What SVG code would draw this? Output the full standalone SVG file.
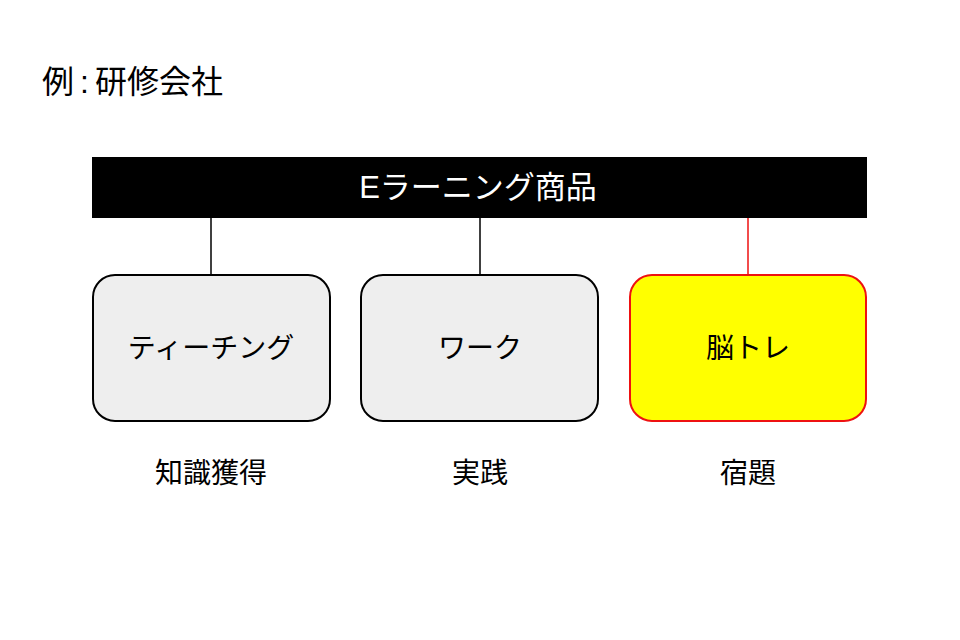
<svg xmlns="http://www.w3.org/2000/svg" width="960" height="640" viewBox="0 0 960 640">
<style>
text{font-family:"Liberation Sans","Noto Sans CJK JP",sans-serif;fill:#000;}
.box{fill:#eeeeee;stroke:#000;stroke-width:2;}
.hl{fill:#ffff00;stroke:#ee1111;stroke-width:2;}
.lbl{font-size:28px;text-anchor:middle;}
.conn{stroke:#000;stroke-width:1.5;}
</style>
<rect width="960" height="640" fill="#fff"/>
<text x="42" y="93" font-size="32">例<tspan dx="6">:</tspan><tspan dx="6">研修会社</tspan></text>
<g id="connectors">
<line class="conn" x1="211" y1="218" x2="211" y2="275"/>
<line class="conn" x1="480" y1="218" x2="480" y2="275"/>
<line x1="748" y1="218" x2="748" y2="275" stroke="#ee1111" stroke-width="1.5"/>
</g>
<g id="root">
<rect x="92" y="157" width="775" height="61" fill="#000"/>
<text x="478" y="198" class="lbl" style="fill:#fff;font-size:31px">Eラーニング商品</text>
</g>
<g id="teaching">
<rect class="box" x="93" y="275" width="237" height="146" rx="22"/>
<text x="211" y="358" class="lbl">ティーチング</text>
</g>
<g id="work">
<rect class="box" x="361" y="275" width="237" height="146" rx="22"/>
<text x="480" y="358" class="lbl">ワーク</text>
</g>
<g id="brain">
<rect class="hl" x="630" y="275" width="236" height="146" rx="22"/>
<text x="748" y="358" class="lbl">脳トレ</text>
</g>
<g id="notes">
<text x="211" y="483" class="lbl">知識獲得</text>
<text x="480" y="483" class="lbl">実践</text>
<text x="748" y="483" class="lbl">宿題</text>
</g>
</svg>
